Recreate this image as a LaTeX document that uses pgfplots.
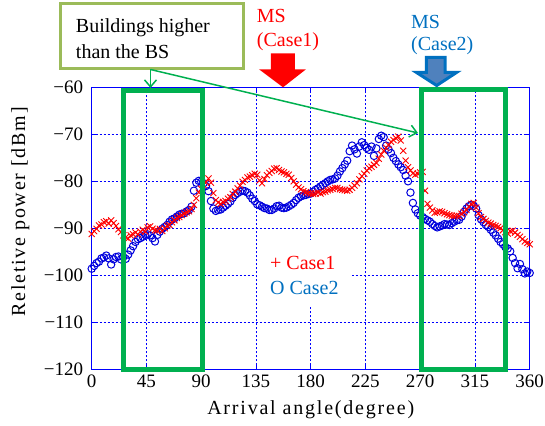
\documentclass[border=0pt]{standalone}
\usepackage{fontspec}
\setmainfont{Liberation Serif}
\newfontfamily\spaced[LetterSpace=9]{Liberation Serif}
\usepackage{pgfplots}
\usepackage{pgfplotstable}
\pgfplotsset{compat=1.18}
\usetikzlibrary{arrows.meta}

\definecolor{gridblue}{RGB}{0,0,255}
\definecolor{markblue}{RGB}{0,0,220}
\definecolor{boxgreen}{RGB}{0,176,80}
\definecolor{olivebox}{RGB}{155,187,89}
\definecolor{mstwo}{RGB}{0,112,192}
\definecolor{arrowfill}{RGB}{79,129,189}

% angle, Case1, Case2
\pgfplotstableread{
a c1 c2
0 -91.2 -98.6
2 -90.6 -98.0
4 -90.1 -97.4
6 -89.4 -97.1
8 -89.2 -96.4
10 -88.7 -96.2
12 -88.5 -95.8
14 -89.0 -96.4
16 -88.3 -97.7
18 -88.9 -96.6
20 -89.5 -96.1
22 -90.2 -96.0
24 -90.8 -96.6
26 -91.5 -96.1
28 -91.9 -96.5
30 -92.2 -95.6
32 -91.5 -94.7
34 -91.3 -93.8
36 -90.9 -92.9
38 -91.3 -92.3
40 -90.7 -92.1
42 -90.3 -91.8
44 -90.7 -91.4
46 -89.8 -91.3
48 -89.6 -91.5
50 -90.1 -92.1
52 -90.4 -92.8
54 -90.5 -91.4
56 -90.1 -90.7
58 -90.6 -90.1
60 -90.0 -89.7
62 -89.5 -89.3
64 -89.3 -88.6
66 -88.7 -88.1
68 -88.3 -87.9
70 -87.8 -87.5
72 -87.6 -87.1
74 -87.2 -86.9
76 -86.9 -86.8
78 -86.6 -86.4
80 -86.4 -86.1
82 -85.9 -85.4
84 -85.0 -82.0
86 -83.6 -80.3
88 -82.4 -79.9
90 -81.6 -80.1
92 -80.8 -80.4
94 -80.2 -81.0
96 -79.4 -82.1
98 -80.3 -84.2
100 -82.5 -85.8
102 -84.0 -86.3
104 -84.5 -86.1
106 -84.8 -86.0
108 -84.4 -85.6
110 -84.2 -85.2
112 -83.7 -84.8
114 -83.4 -84.3
116 -82.7 -83.5
118 -82.2 -82.9
120 -81.5 -82.5
122 -80.9 -82.2
124 -80.1 -82.0
126 -79.7 -82.1
128 -79.2 -82.4
130 -79.0 -83.0
132 -78.7 -83.7
134 -78.4 -84.2
136 -78.6 -84.9
138 -79.8 -85.1
140 -80.4 -85.4
142 -79.5 -85.7
144 -78.7 -85.8
146 -78.2 -86.1
148 -77.8 -86.1
150 -77.3 -85.8
152 -77.2 -85.3
154 -77.6 -85.2
156 -77.9 -85.6
158 -78.1 -85.7
160 -78.4 -85.6
162 -78.6 -85.3
164 -79.3 -85.0
166 -80.0 -84.6
168 -80.7 -84.0
170 -81.3 -83.5
172 -81.7 -83.2
174 -82.1 -83.0
176 -82.3 -82.9
178 -82.5 -82.7
180 -82.6 -82.6
182 -82.7 -82.2
184 -82.6 -81.8
186 -82.4 -81.5
188 -82.6 -81.1
190 -82.3 -80.8
192 -82.2 -80.4
194 -81.9 -80.0
196 -81.8 -79.7
198 -81.6 -79.6
200 -81.4 -79.4
202 -81.4 -78.8
204 -81.7 -77.9
206 -81.8 -77.2
208 -81.9 -76.4
210 -82.0 -75.6
212 -81.8 -73.6
214 -81.4 -72.4
216 -80.9 -73.2
218 -80.4 -74.1
220 -79.6 -72.6
222 -78.9 -71.7
224 -78.4 -72.3
226 -77.7 -72.9
228 -77.2 -73.3
230 -76.9 -72.6
232 -76.5 -74.6
234 -76.1 -73.0
236 -75.2 -71.0
238 -74.3 -70.3
240 -73.5 -70.6
242 -72.9 -72.4
244 -72.3 -73.2
246 -71.6 -74.0
248 -71.2 -75.0
250 -70.8 -75.7
252 -70.5 -76.4
254 -71.3 -77.0
256 -73.5 -77.6
258 -75.6 -78.8
260 -77.0 -80.0
262 -77.7 -82.4
264 -78.3 -84.6
266 -78.6 -86.0
268 -78.4 -86.8
270 -78.1 -87.3
272 -78.0 -87.6
274 -82.0 -88.0
276 -84.8 -88.3
278 -85.6 -88.6
280 -86.2 -89.1
282 -86.7 -89.5
284 -86.6 -89.8
286 -86.4 -89.6
288 -86.5 -89.4
290 -86.8 -89.1
292 -87.0 -89.2
294 -87.2 -89.3
296 -87.3 -88.9
298 -87.4 -88.6
300 -87.3 -88.3
302 -87.4 -88.2
304 -86.9 -87.5
306 -86.6 -86.5
308 -86.1 -85.8
310 -85.4 -85.3
312 -84.8 -85.0
314 -84.6 -85.2
316 -85.6 -85.8
318 -86.8 -87.2
320 -87.6 -88.1
322 -88.0 -88.7
324 -88.4 -89.3
326 -88.8 -89.7
328 -89.0 -90.3
330 -89.3 -90.9
332 -89.5 -91.5
334 -89.7 -92.2
336 -90.0 -92.9
338 -90.4 -93.4
340 -90.8 -94.0
342 -91.1 -94.3
344 -90.6 -94.9
346 -90.5 -96.3
348 -90.9 -97.4
350 -91.4 -98.5
352 -91.8 -97.6
354 -92.3 -98.7
356 -92.8 -99.6
358 -93.1 -99.2
360 -93.4 -99.5
}\rssdata

\begin{document}
\begin{tikzpicture}
\useasboundingbox (-91.7bp,-56.7bp) rectangle (453.3bp,369.3bp);
\begin{axis}[
    scale only axis,
    width=438bp, height=282bp,
    xmin=0, xmax=360, ymin=-120, ymax=-60,
    xtick={0,45,...,360},
    xticklabels={0,45,90,135,180,225,270,315,360},
    ytick={-120,-110,-100,-90,-80,-70,-60},
    yticklabels={−120,−110,−100,−90,−80,−70,−60},
    axis line style={draw=gridblue, line width=0.8bp},
    tick style={draw=gridblue, line width=0.6bp},
    tick align=inside,
    major tick length=6bp,
    grid=major,
    major grid style={draw=gridblue, line width=0.6bp, dash pattern=on 2bp off 2bp},
    tick label style={font=\fontsize{19bp}{22bp}\selectfont},
    xticklabel style={yshift=-2.5bp},
    yticklabel style={xshift=-5bp},
    label style={font=\fontsize{20bp}{24bp}\selectfont},
    xlabel={\spaced Arrival angle(degree)},
    ylabel={\spaced Reletive power [dBm]},
    xlabel style={at={(axis description cs:0.5,-0.162)}, anchor=base},
    ylabel style={at={(axis description cs:-0.152,0.558)}, anchor=base},
    clip=false,
]
\addplot[only marks, mark=o, mark size=3.7bp, draw=markblue, mark options={line width=1bp}]
    table[x=a, y=c2] {\rssdata};
\addplot[only marks, mark=x, mark size=4.3bp, draw=red, mark options={line width=0.9bp}]
    table[x=a, y=c1] {\rssdata};
\end{axis}

% annotations, in pixel coordinates of the reference
\begin{scope}[x=1bp, y=-1bp, shift={(-91.7bp,369.3bp)}, font=\fontsize{20bp}{24bp}\selectfont]
  \fill[white] (257,240) rectangle (352,307);
  \node[red, anchor=base west, inner sep=0] at (270,270) {+ Case1};
  \node[mstwo, anchor=base west, inner sep=0] at (270,295) {O Case2};

  \draw[boxgreen, line width=5bp] (123.2,91) rectangle (202.5,369.5);
  \draw[boxgreen, line width=5bp] (421.8,90) rectangle (505.8,369.5);

  \draw[olivebox, line width=3bp, fill=white] (61,4) rectangle (244,69);
  \node[anchor=base west, inner sep=0] at (75.8,33) {Buildings higher};
  \node[anchor=base west, inner sep=0] at (75.8,58.4) {than the BS};

  \draw[boxgreen, line width=1.5bp, -{Straight Barb[length=7bp,width=12bp]}]
      (150.5,69.5) -- (150.5,88);
  \draw[boxgreen, line width=1.5bp, -{Straight Barb[length=7bp,width=12bp]}]
      (150.5,69.5) -- (418,133);

  \fill[red] (271,53.3) -- (295,53.3) -- (295,69.3) -- (306,69.3) -- (283,87.3)
      -- (259,69.3) -- (271,69.3) -- cycle;
  \node[red, anchor=base west, inner sep=0] at (256.7,22.7) {MS};
  \node[red, anchor=base west, inner sep=0] at (256.7,46.7) {(Case1)};

  \filldraw[fill=arrowfill, draw=mstwo, line width=3bp, line join=miter]
      (426.5,57.5) -- (445.2,57.5) -- (445.2,72.5) -- (456.5,72.5) -- (436.7,85.5)
      -- (416.5,72.5) -- (426.5,72.5) -- cycle;
  \node[mstwo, anchor=base west, inner sep=0] at (411,28.3) {MS};
  \node[mstwo, anchor=base west, inner sep=0] at (411,50.7) {(Case2)};
\end{scope}
\end{tikzpicture}
\end{document}
